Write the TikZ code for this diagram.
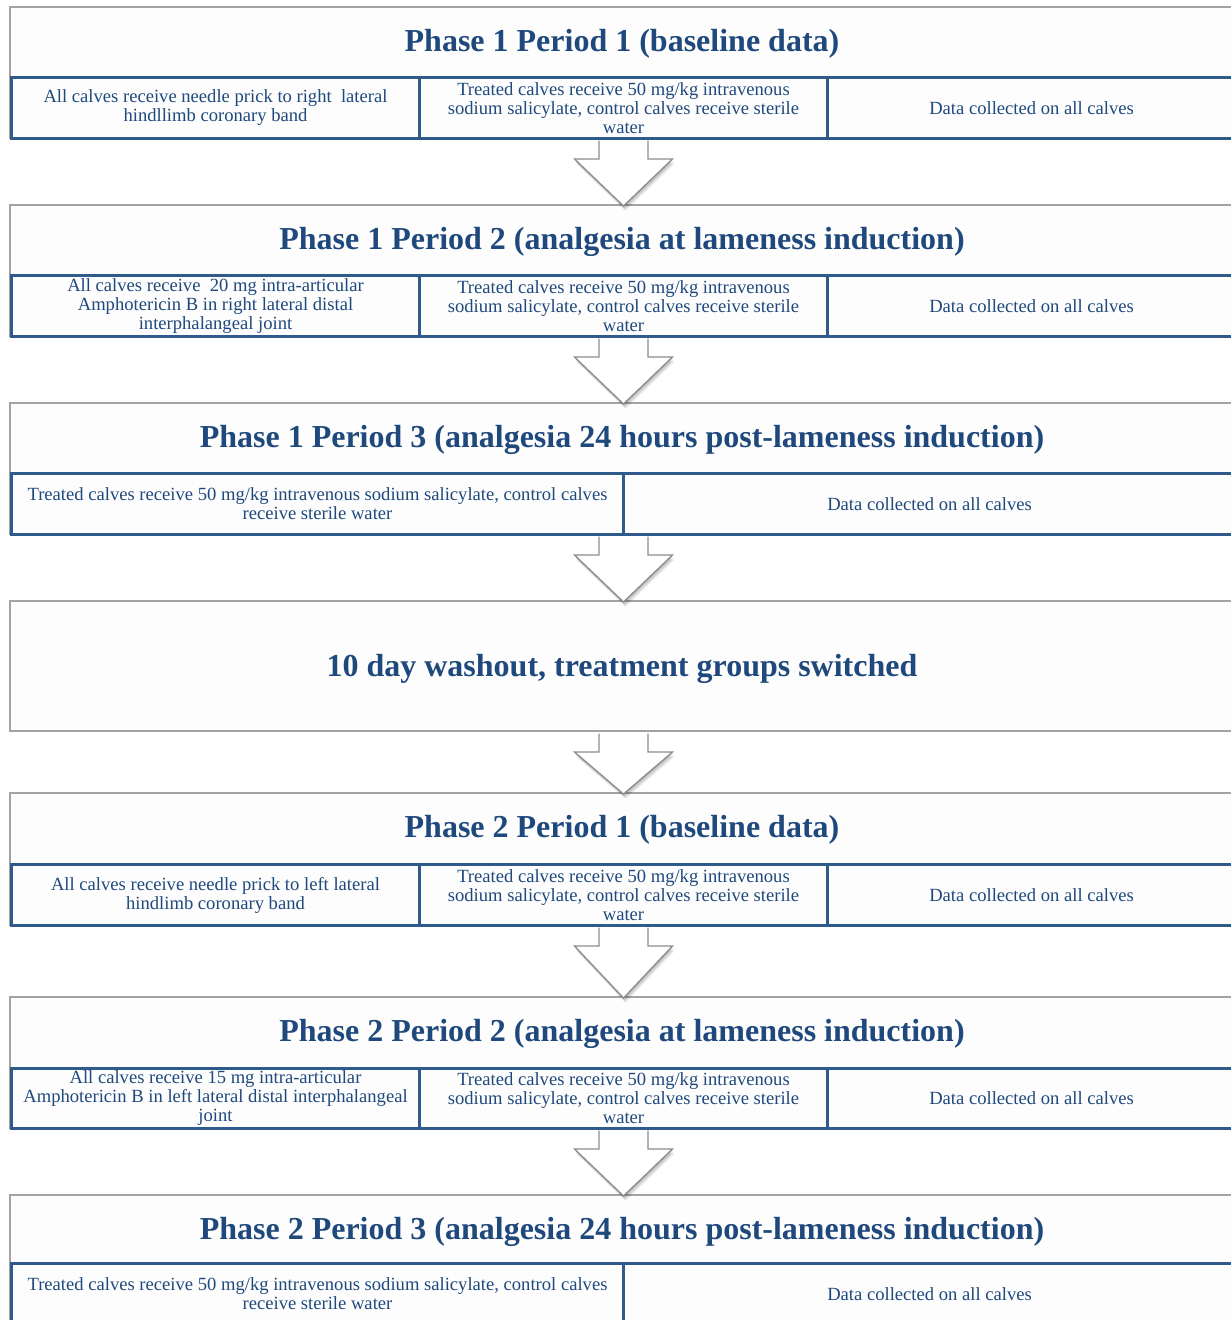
\documentclass[tikz,border=0pt]{standalone}
\usepackage{fontspec}
\setmainfont{Liberation Serif}
\usetikzlibrary{calc}
\definecolor{txt}{HTML}{1F497D}
\definecolor{cellb}{HTML}{2E5A8C}
\definecolor{outb}{HTML}{A3A3A3}
\definecolor{arrb}{HTML}{8C8C8C}
\definecolor{boxfill}{HTML}{FDFDFD}
\pgfdeclarelayer{bg}
\pgfsetlayers{bg,main}
\tikzset{
  outerbox/.style={draw=outb, line width=2pt, fill=boxfill, minimum width=1226pt, anchor=north west, inner sep=0pt},
  cellbox/.style={draw=cellb, line width=3pt, anchor=north west, inner sep=0pt, text=txt,
                  font=\fontsize{18.6}{19}\selectfont, align=center},
  titletext/.style={text=txt, font=\fontsize{32}{34}\selectfont\bfseries, inner sep=0pt, anchor=base},
  arrowfill/.style={fill=white},
  arrowline/.style={draw=arrb, line width=1.3pt, line join=miter},
}
\newcommand{\softshadow}[1]{%
  \begin{pgfonlayer}{bg}
    \foreach \i in {1,...,7}{
      \fill[black, opacity=0.05] ($(#1.north west)+(1,\i)$) rectangle ($(#1.south east)+(0,\i)$);
    }
  \end{pgfonlayer}}
\newcommand{\flowarrow}[2]{%
  \coordinate (#1s) at (#1.south);
  \coordinate (#1t) at ($(#2.north)+(0.5,2)$);
  \foreach \i in {1,...,5}{
    \fill[black, opacity=0.06] ($(#1s)+(-24+0.4*\i,20+\i)$) -- ($(#1s)+(-48.5+0.4*\i,20+\i)$) -- ($(#1t)+(0.4*\i,\i)$) -- ($(#1s)+(49.5+0.4*\i,20+\i)$) -- ($(#1s)+(25+0.4*\i,20+\i)$) -- cycle;
  }
  \fill[arrowfill] ($(#1s)+(-24,1.5)$) -- ($(#1s)+(-24,20)$) -- ($(#1s)+(-48.5,20)$) -- (#1t) -- ($(#1s)+(49.5,20)$) -- ($(#1s)+(25,20)$) -- ($(#1s)+(25,1.5)$) -- cycle;
  \draw[arrowline] ($(#1s)+(-24,1.5)$) -- ($(#1s)+(-24,20)$) -- ($(#1s)+(-48.5,20)$) -- (#1t) -- ($(#1s)+(49.5,20)$) -- ($(#1s)+(25,20)$) -- ($(#1s)+(25,1.5)$);
}
\begin{document}
\begin{tikzpicture}[x=1pt, y=-1pt]
\useasboundingbox (0,0) rectangle (1231,1320);
\clip (0,0) rectangle (1231,1320);
\fill[white] (0,0) rectangle (1231,1320);

% ---------- Box 1
\node[outerbox, minimum height=131pt] (b1) at (9,6) {};
\softshadow{b1}
\node[titletext] (t1) at (622,51) {Phase 1 Period 1 (baseline data)};
\node[cellbox, minimum width=408pt, minimum height=61pt] (c11) at (10,76) {All calves receive needle prick to right\ \ lateral\\hindllimb coronary band};
\node[cellbox, minimum width=408pt, minimum height=61pt] (c12) at (418,76) {Treated calves receive 50 mg/kg intravenous\\sodium salicylate, control calves receive sterile\\water};
\node[cellbox, minimum width=408pt, minimum height=61pt] (c13) at (826,76) {Data collected on all calves};

% ---------- Box 2
\node[outerbox, minimum height=131pt] (b2) at (9,204) {};
\softshadow{b2}
\node[titletext] (t2) at (622,249) {Phase 1 Period 2 (analgesia at lameness induction)};
\node[cellbox, minimum width=408pt, minimum height=61pt] (c21) at (10,274) {All calves receive\ \ 20 mg intra-articular\\Amphotericin B in right lateral distal\\interphalangeal joint};
\node[cellbox, minimum width=408pt, minimum height=61pt] (c22) at (418,274) {Treated calves receive 50 mg/kg intravenous\\sodium salicylate, control calves receive sterile\\water};
\node[cellbox, minimum width=408pt, minimum height=61pt] (c23) at (826,274) {Data collected on all calves};

% ---------- Box 3
\node[outerbox, minimum height=131pt] (b3) at (9,402) {};
\softshadow{b3}
\node[titletext] (t3) at (622,447) {Phase 1 Period 3 (analgesia 24 hours post-lameness induction)};
\node[cellbox, minimum width=612pt, minimum height=61pt] (c31) at (10,472) {Treated calves receive 50 mg/kg intravenous sodium salicylate, control calves\\receive sterile water};
\node[cellbox, minimum width=612pt, minimum height=61pt] (c32) at (622,472) {Data collected on all calves};

% ---------- Box 4
\node[outerbox, minimum height=130pt] (b4) at (9,600) {};
\softshadow{b4}
\node[titletext] (t4) at (622,676) {10 day washout, treatment groups switched};

% ---------- Box 5
\node[outerbox, minimum height=132pt] (b5) at (9,792) {};
\softshadow{b5}
\node[titletext] (t5) at (622,837) {Phase 2 Period 1 (baseline data)};
\node[cellbox, minimum width=408pt, minimum height=61pt] (c51) at (10,863) {All calves receive needle prick to left lateral\\hindlimb coronary band};
\node[cellbox, minimum width=408pt, minimum height=61pt] (c52) at (418,863) {Treated calves receive 50 mg/kg intravenous\\sodium salicylate, control calves receive sterile\\water};
\node[cellbox, minimum width=408pt, minimum height=61pt] (c53) at (826,863) {Data collected on all calves};

% ---------- Box 6
\node[outerbox, minimum height=131pt] (b6) at (9,996) {};
\softshadow{b6}
\node[titletext] (t6) at (622,1041) {Phase 2 Period 2 (analgesia at lameness induction)};
\node[cellbox, minimum width=408pt, minimum height=60pt] (c61) at (10,1067) {All calves receive 15 mg intra-articular\\Amphotericin B in left lateral distal interphalangeal\\joint};
\node[cellbox, minimum width=408pt, minimum height=60pt] (c62) at (418,1067) {Treated calves receive 50 mg/kg intravenous\\sodium salicylate, control calves receive sterile\\water};
\node[cellbox, minimum width=408pt, minimum height=60pt] (c63) at (826,1067) {Data collected on all calves};

% ---------- Box 7
\node[outerbox, minimum height=129pt] (b7) at (9,1194) {};
\softshadow{b7}
\node[titletext] (t7) at (622,1239) {Phase 2 Period 3 (analgesia 24 hours post-lameness induction)};
\node[cellbox, minimum width=612pt, minimum height=61pt] (c71) at (10,1262) {Treated calves receive 50 mg/kg intravenous sodium salicylate, control calves\\receive sterile water};
\node[cellbox, minimum width=612pt, minimum height=61pt] (c72) at (622,1262) {Data collected on all calves};

% ---------- Arrows
\flowarrow{b1}{b2}
\flowarrow{b2}{b3}
\flowarrow{b3}{b4}
\flowarrow{b4}{b5}
\flowarrow{b5}{b6}
\flowarrow{b6}{b7}
\end{tikzpicture}
\end{document}
